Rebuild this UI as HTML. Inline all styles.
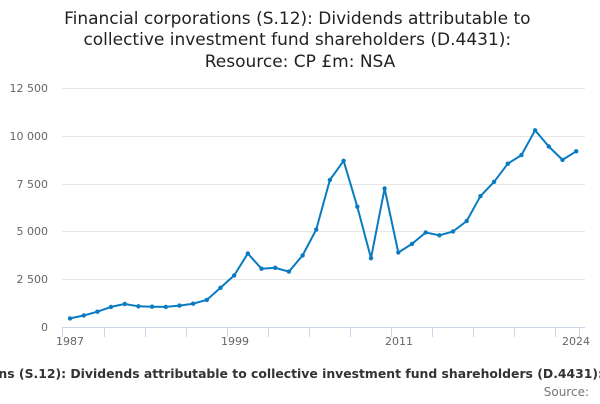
<!DOCTYPE html>
<html><head><meta charset="utf-8"><style>
body{margin:0;background:#fff;width:600px;height:400px;overflow:hidden;font-family:"DejaVu Sans","Liberation Sans",sans-serif;}
</style></head><body>
<svg width="600" height="400" xmlns="http://www.w3.org/2000/svg" font-family="DejaVu Sans, Liberation Sans, sans-serif">
<text text-anchor="middle" font-size="17" fill="#222">
<tspan x="300" y="24">Financial corporations (S.12): Dividends attributable to</tspan>
<tspan x="300" y="45">collective investment fund shareholders (D.4431):</tspan>
<tspan x="300" y="67">Resource: CP £m: NSA</tspan></text>
<g stroke="#e6e6e6" stroke-width="1">
<line x1="62" x2="585" y1="88.5" y2="88.5"/><line x1="62" x2="585" y1="136.5" y2="136.5"/>
<line x1="62" x2="585" y1="184.5" y2="184.5"/><line x1="62" x2="585" y1="231.5" y2="231.5"/>
<line x1="62" x2="585" y1="279.5" y2="279.5"/></g>
<line x1="62" x2="585" y1="327.5" y2="327.5" stroke="#ccd6eb"/>
<g stroke="#ccd6eb"><line x1="62.5" x2="62.5" y1="327" y2="337"/><line x1="104.5" x2="104.5" y1="327" y2="337"/><line x1="145.5" x2="145.5" y1="327" y2="337"/><line x1="186.5" x2="186.5" y1="327" y2="337"/><line x1="227.5" x2="227.5" y1="327" y2="337"/><line x1="268.5" x2="268.5" y1="327" y2="337"/><line x1="309.5" x2="309.5" y1="327" y2="337"/><line x1="350.5" x2="350.5" y1="327" y2="337"/><line x1="391.5" x2="391.5" y1="327" y2="337"/><line x1="432.5" x2="432.5" y1="327" y2="337"/><line x1="473.5" x2="473.5" y1="327" y2="337"/><line x1="514.5" x2="514.5" y1="327" y2="337"/><line x1="555.5" x2="555.5" y1="327" y2="337"/><line x1="579.5" x2="579.5" y1="327" y2="337"/></g>
<g font-size="11" fill="#666" text-anchor="end">
<text x="48" y="92">12 500</text><text x="48" y="140">10 000</text><text x="48" y="188">7 500</text><text x="48" y="235">5 000</text><text x="48" y="283">2 500</text><text x="48" y="331">0</text></g>
<g font-size="11" fill="#666" text-anchor="middle">
<text x="70" y="345">1987</text><text x="235" y="345">1999</text><text x="399" y="345">2011</text><text x="576" y="345">2024</text></g>
<polyline fill="none" stroke="#0b7bc1" stroke-width="2" stroke-linejoin="round" points="70.0,318.4 83.7,315.5 97.4,311.7 111.0,306.9 124.7,304.0 138.4,306.3 152.1,306.7 165.8,306.9 179.4,305.6 193.1,303.7 206.8,299.9 220.5,287.8 234.2,275.4 247.8,253.5 261.5,268.7 275.2,267.8 288.9,271.6 302.6,255.4 316.2,229.6 329.9,179.9 343.6,160.8 357.3,206.7 371.0,258.2 384.6,188.5 398.3,252.5 412.0,243.9 425.7,232.5 439.4,235.3 453.0,231.5 466.7,221.0 480.4,196.2 494.1,181.8 507.8,163.7 521.4,155.1 535.1,130.3 548.8,146.5 562.5,159.9 576.2,151.3"/>
<g fill="#0b7bc1">
<circle cx="70.0" cy="318.4" r="2.2"/><circle cx="83.7" cy="315.5" r="2.2"/><circle cx="97.4" cy="311.7" r="2.2"/><circle cx="111.0" cy="306.9" r="2.2"/><circle cx="124.7" cy="304.0" r="2.2"/><circle cx="138.4" cy="306.3" r="2.2"/><circle cx="152.1" cy="306.7" r="2.2"/><circle cx="165.8" cy="306.9" r="2.2"/><circle cx="179.4" cy="305.6" r="2.2"/><circle cx="193.1" cy="303.7" r="2.2"/><circle cx="206.8" cy="299.9" r="2.2"/><circle cx="220.5" cy="287.8" r="2.2"/><circle cx="234.2" cy="275.4" r="2.2"/><circle cx="247.8" cy="253.5" r="2.2"/><circle cx="261.5" cy="268.7" r="2.2"/><circle cx="275.2" cy="267.8" r="2.2"/><circle cx="288.9" cy="271.6" r="2.2"/><circle cx="302.6" cy="255.4" r="2.2"/><circle cx="316.2" cy="229.6" r="2.2"/><circle cx="329.9" cy="179.9" r="2.2"/><circle cx="343.6" cy="160.8" r="2.2"/><circle cx="357.3" cy="206.7" r="2.2"/><circle cx="371.0" cy="258.2" r="2.2"/><circle cx="384.6" cy="188.5" r="2.2"/><circle cx="398.3" cy="252.5" r="2.2"/><circle cx="412.0" cy="243.9" r="2.2"/><circle cx="425.7" cy="232.5" r="2.2"/><circle cx="439.4" cy="235.3" r="2.2"/><circle cx="453.0" cy="231.5" r="2.2"/><circle cx="466.7" cy="221.0" r="2.2"/><circle cx="480.4" cy="196.2" r="2.2"/><circle cx="494.1" cy="181.8" r="2.2"/><circle cx="507.8" cy="163.7" r="2.2"/><circle cx="521.4" cy="155.1" r="2.2"/><circle cx="535.1" cy="130.3" r="2.2"/><circle cx="548.8" cy="146.5" r="2.2"/><circle cx="562.5" cy="159.9" r="2.2"/><circle cx="576.2" cy="151.3" r="2.2"/></g>
<text x="603" y="378" text-anchor="end" font-size="12.4" font-weight="bold" fill="#333">Financial corporations (S.12): Dividends attributable to collective investment fund shareholders (D.4431):</text>
<text x="589" y="396" text-anchor="end" font-size="12" fill="#777">Source:</text>
</svg>
</body></html>
